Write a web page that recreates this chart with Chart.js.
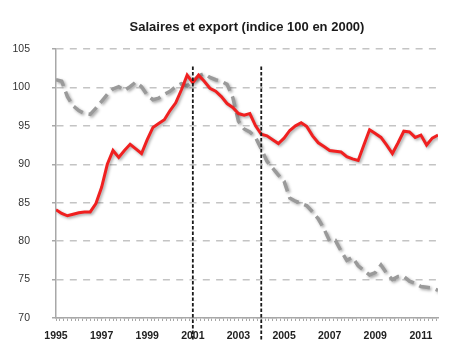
<!DOCTYPE html>
<html>
<head>
<meta charset="utf-8">
<script src="https://cdn.jsdelivr.net/npm/chart.js@4"></script>
<style>
  html, body { margin: 0; padding: 0; background: #fff; }
  #wrap { width: 465px; height: 355px; }
</style>
</head>
<body>
<div id="wrap"><canvas id="c" width="465" height="355"></canvas></div>
<script>
// ---- Data (quarterly, 1995 T1 .. 2011 T4) ----
const startYear = 1995;
const periodsPerYear = 4;
const salaires = [
  84.1, 83.6, 83.3, 83.5, 83.7, 83.8, 83.8, 84.9,
  87.0, 90.0, 91.8, 90.9, 91.8, 92.6, 92.0, 91.4,
  93.2, 94.8, 95.3, 95.8, 97.0, 98.0, 99.7, 101.6,
  100.6, 101.6, 100.8, 99.9, 99.5, 98.8, 97.9, 97.4,
  96.6, 96.4, 96.6, 95.0, 93.9, 93.7, 93.2, 92.7,
  93.4, 94.4, 95.0, 95.4, 94.9, 93.7, 92.8, 92.3,
  91.8, 91.7, 91.6, 91.0, 90.7, 90.5, 92.5, 94.5,
  94.0, 93.5, 92.5, 91.4, 92.8, 94.3, 94.2, 93.5,
  93.8, 92.5, 93.4, 93.8
];
const exportIdx = [
  101.0, 100.8, 98.8, 97.6, 97.0, 96.6, 96.5, 97.3,
  98.2, 99.1, 99.8, 100.1, 99.6, 100.1, 100.7, 100.1,
  99.0, 98.4, 98.6, 99.1, 99.5, 100.1, 100.5, 100.2,
  100.8, 101.5, 101.8, 101.3, 101.0, 100.8, 100.4, 98.7,
  95.6, 94.6, 94.2, 93.5, 92.0, 90.4, 89.5, 88.6,
  87.8, 85.6, 85.2, 84.9, 84.6, 83.8, 82.9, 81.6,
  80.0, 80.1, 78.7, 77.5, 77.9, 76.8, 76.2, 75.6,
  75.9, 76.9, 75.8, 75.0, 75.4, 75.4, 74.8, 74.5,
  74.1, 74.0, 73.9, 73.6
];
const markerYears = [2001, 2004];      // vertical dashed lines
const markerRange = [67.2, 102.9];      // their vertical extent (index values)
const yTicks = [70, 75, 80, 85, 90, 95, 100, 105];
const xLabelYears = [1995, 1997, 1999, 2001, 2003, 2005, 2007, 2009, 2011];
const xMin = 1995, xMax = 2011.75;
const titleText = 'Salaires et export (indice 100 en 2000)';

// ---- Build points ----
const toXY = arr => arr.map((v, i) => ({ x: startYear + i / periodsPerYear, y: v }));
const markerDatasets = markerYears.map(yr => ({
  data: [{ x: yr, y: markerRange[0] }, { x: yr, y: markerRange[1] }],
  borderColor: '#1a1a1a', borderWidth: 1.8, borderDash: [3.5, 2],
  pointRadius: 0, clip: false, shadow: false, order: 0
}));

const shadowPlugin = {
  id: 'shadow',
  beforeDatasetDraw(chart, args) {
    const ds = chart.data.datasets[args.index];
    chart.ctx.save();
    if (ds.shadow) {
      chart.ctx.shadowColor = 'rgba(0,0,0,0.35)';
      chart.ctx.shadowBlur = 3;
      chart.ctx.shadowOffsetX = 1.5;
      chart.ctx.shadowOffsetY = 1.5;
    }
  },
  afterDatasetDraw(chart) { chart.ctx.restore(); }
};

new Chart(document.getElementById('c'), {
  type: 'line',
  data: {
    datasets: [
      ...markerDatasets,
      {
        label: 'Salaires', data: toXY(salaires),
        borderColor: '#f02020', borderWidth: 3, pointRadius: 0,
        tension: 0, shadow: true, order: 1
      },
      {
        label: 'Export', data: toXY(exportIdx),
        borderColor: '#9a9a9a', borderWidth: 3.5, borderDash: [11, 6],
        pointRadius: 0, tension: 0, shadow: true, order: 2
      }
    ]
  },
  options: {
    responsive: false,
    animation: false,
    layout: { padding: { left: 0, right: 0, top: 0, bottom: 0 } },
    plugins: {
      legend: { display: false },
      tooltip: { enabled: false },
      title: {
        display: true, text: titleText, color: '#1a1a1a', fullSize: false,
        font: { family: "'Liberation Sans', Arial, sans-serif", size: 13, weight: 'bold', lineHeight: 1.2 },
        padding: { top: 19.2, bottom: 14.2 }
      }
    },
    scales: {
      x: {
        type: 'linear', min: xMin, max: xMax,
        afterBuildTicks: s => {
          const t = [];
          for (let k = 0; ; k++) {
            const v = xMin + k / 6;
            if (v > xMax + 1e-6) break;
            t.push({ value: v });
          }
          s.ticks = t;
        },
        afterFit: s => { s.height = 37; },
        grid: { display: true, drawOnChartArea: false, drawTicks: true, tickLength: 3, tickColor: '#a8a8a8', tickWidth: 1, color: '#a8a8a8' },
        border: { display: true, color: '#a8a8a8', width: 1.5 },
        ticks: {
          autoSkip: false, maxRotation: 0, padding: 9, color: '#222',
          font: { family: "'Liberation Sans', Arial, sans-serif", size: 10.5, weight: 'bold' },
          callback: v => {
            const r = Math.round(v);
            return (Math.abs(v - r) < 1e-6 && xLabelYears.includes(r)) ? String(r) : '';
          }
        }
      },
      y: {
        min: 70, max: 105,
        afterBuildTicks: s => { s.ticks = yTicks.map(v => ({ value: v })); },
        afterFit: s => { s.width = 56; },
        grid: { color: '#c4c4c4', lineWidth: 1.5, drawTicks: true, tickLength: 4, tickColor: '#a8a8a8', tickWidth: 1.5, tickBorderDash: [] },
        border: { display: true, color: '#a8a8a8', width: 1.5, dash: [7, 6.3] },
        ticks: {
          padding: 22, color: '#333',
          font: { family: "'Liberation Sans', Arial, sans-serif", size: 10.5 }
        }
      },
      yR: {
        position: 'right', display: true,
        afterFit: s => { s.width = 27; },
        grid: { display: false }, border: { display: false }, ticks: { display: false }
      }
    }
  },
  plugins: [shadowPlugin]
});
</script>
</body>
</html>
